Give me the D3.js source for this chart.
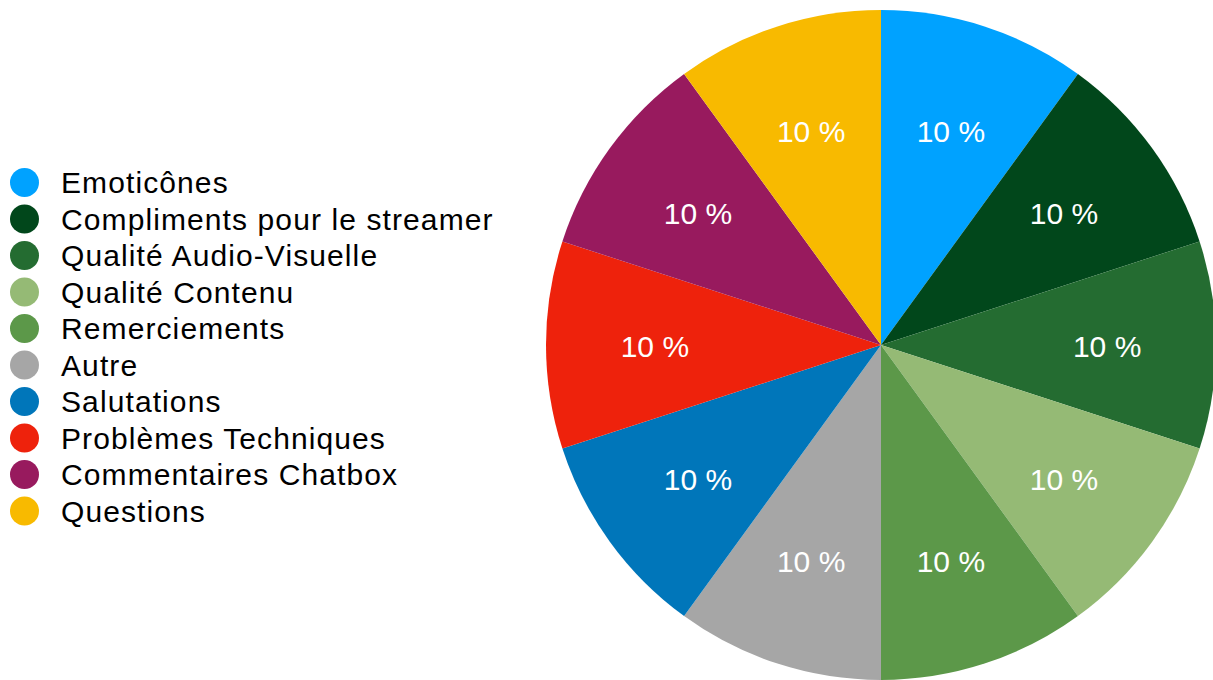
<!DOCTYPE html>
<html>
<head>
<meta charset="utf-8">
<script src="https://cdn.jsdelivr.net/npm/d3@7"></script>
<style>
  html, body { margin: 0; padding: 0; background: #fff; }
  svg { display: block; font-family: "Helvetica Neue", Helvetica, "Liberation Sans", Arial, sans-serif; }
</style>
</head>
<body>
<svg id="chart" width="1213" height="680"></svg>
<script>
// Categories, their shares (percent) and fill colours
const categories = [
  "Emoticônes",
  "Compliments pour le streamer",
  "Qualité Audio-Visuelle",
  "Qualité Contenu",
  "Remerciements",
  "Autre",
  "Salutations",
  "Problèmes Techniques",
  "Commentaires Chatbox",
  "Questions"
];
const values = [10, 10, 10, 10, 10, 10, 10, 10, 10, 10];
const colors = [
  "#00A2FF", "#01471B", "#246C31", "#95BA75", "#5C9849",
  "#A6A6A6", "#0076BA", "#EE220C", "#981A5E", "#F8BA00"
];

const data = categories.map((name, i) => ({ name, value: values[i], color: colors[i] }));

const svg = d3.select("#chart");
const cx = 881, cy = 345, radius = 335;

const pie = d3.pie().sort(null).value(d => d.value);
const arc = d3.arc().innerRadius(0).outerRadius(radius);
const labelArc = d3.arc().innerRadius(radius * 0.675).outerRadius(radius * 0.675);
const total = d3.sum(values);

const g = svg.append("g").attr("transform", `translate(${cx},${cy})`);
const slices = g.selectAll("g.slice").data(pie(data)).join("g").attr("class", "slice");

slices.append("path")
  .attr("d", arc)
  .attr("fill", d => d.data.color);

slices.append("text")
  .attr("transform", d => `translate(${labelArc.centroid(d)})`)
  .attr("text-anchor", "middle")
  .attr("dy", "0.4em")
  .attr("fill", "#fff")
  .attr("font-size", 30)
  .text(d => `${Math.round(d.data.value / total * 100)} %`);

// Legend
const y = d3.scalePoint().domain(categories).range([182.5, 511]);
const legend = svg.append("g").selectAll("g").data(data).join("g")
  .attr("transform", d => `translate(0,${y(d.name)})`);

legend.append("circle")
  .attr("cx", 24.5)
  .attr("cy", 0)
  .attr("r", 14.5)
  .attr("fill", d => d.color);

legend.append("text")
  .attr("x", 61)
  .attr("dy", "0.35em")
  .attr("font-size", 30)
  .attr("letter-spacing", "1.1px")
  .attr("fill", "#000")
  .text(d => d.name);
</script>
</body>
</html>
